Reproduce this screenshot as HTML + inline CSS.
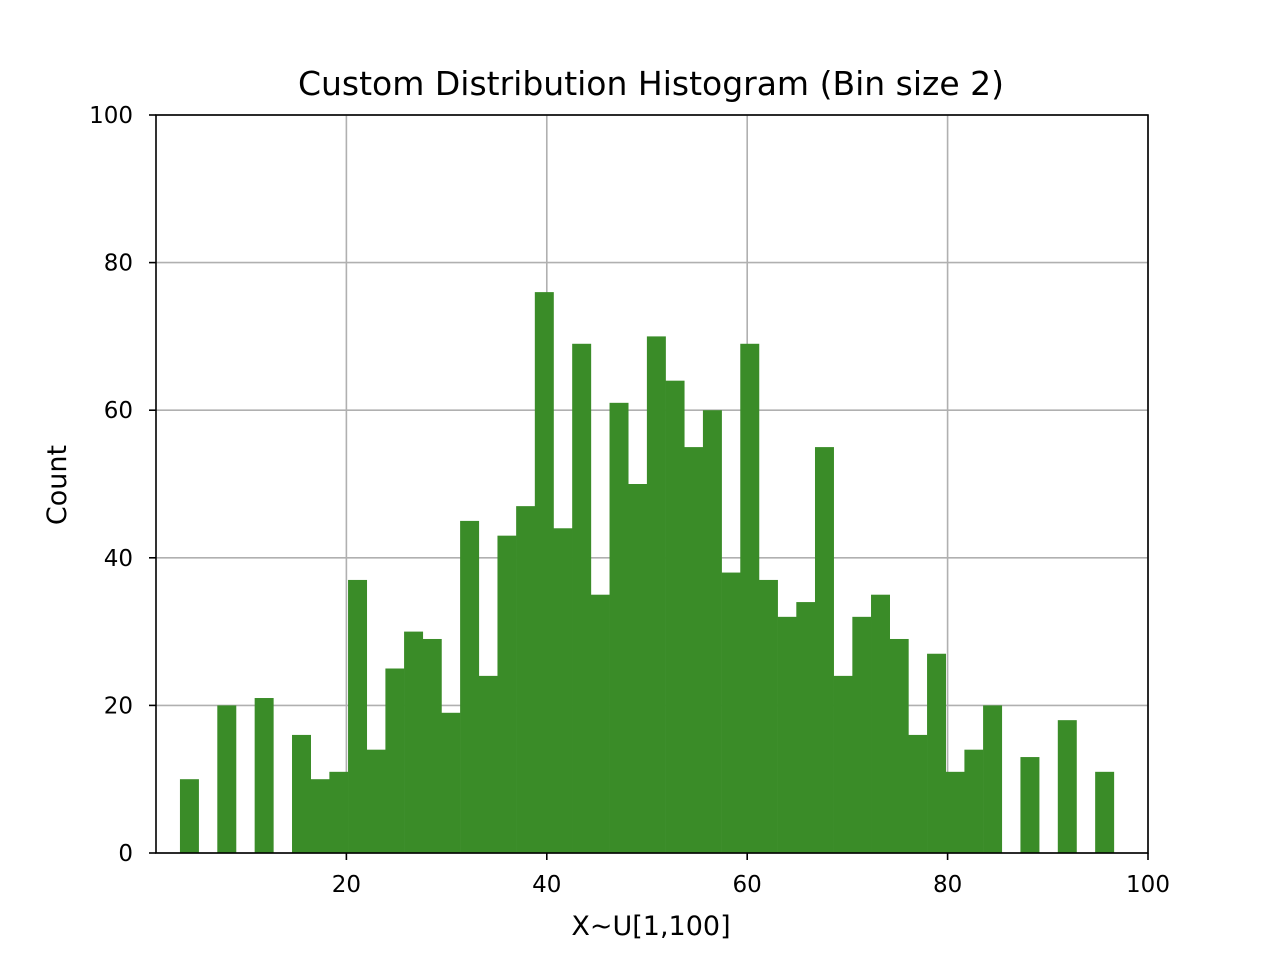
<!DOCTYPE html>
<html><head><meta charset="utf-8"><style>
html,body{margin:0;padding:0;background:#fff;}
svg{display:block;font-family:"DejaVu Sans","Liberation Sans",sans-serif;}
</style></head><body>
<svg id="chart" width="1274" height="960" viewBox="0 0 1274 960" xmlns="http://www.w3.org/2000/svg">
<rect width="1274" height="960" fill="#fff"/>
<g id="grid"></g><g id="bars"></g><g id="axes"></g>
</svg>
<script>
const binStart = 3.39;
const binWidth = 1.864;
const counts = [10,0,20,0,21,0,16,10,11,37,14,25,30,29,19,45,24,43,47,76,44,69,35,61,50,70,64,55,60,38,69,37,32,34,55,24,32,35,29,16,27,11,14,20,0,13,0,18,0,11];
const xTicks = [20,40,60,80,100];
const yTicks = [0,20,40,60,80,100];
const xMin = 1, xMax = 100, yMin = 0, yMax = 100;
const L=156,R=1148,T=115,B=853;
const sx = v => L + (v-xMin)/(xMax-xMin)*(R-L);
const sy = v => B - (v-yMin)/(yMax-yMin)*(B-T);
const NS="http://www.w3.org/2000/svg";
function mk(tag, attrs, parent){const e=document.createElementNS(NS,tag);for(const k in attrs)e.setAttribute(k,attrs[k]);parent.appendChild(e);return e;}
const grid=document.getElementById('grid'),bars=document.getElementById('bars'),axes=document.getElementById('axes');
xTicks.forEach(t=>{const l=mk('line',{x1:sx(t),x2:sx(t),y1:T,y2:B,stroke:'#b0b0b0','stroke-width':1.6},grid);

});
yTicks.forEach(t=>{const l=mk('line',{x1:L,x2:R,y1:sy(t),y2:sy(t),stroke:'#b0b0b0','stroke-width':1.6},grid);

});
counts.forEach((c,i)=>{if(c<=0)return;const x0=sx(binStart+i*binWidth),x1=sx(binStart+(i+1)*binWidth);
const r=mk('rect',{x:x0,y:sy(c),width:x1-x0+0.3,height:sy(0)-sy(c),fill:'#3a8c28'},bars);

});
const frame=mk('rect',{x:L,y:T,width:R-L,height:B-T,fill:'none',stroke:'#000','stroke-width':1.6},axes);


xTicks.forEach(t=>{mk('line',{x1:sx(t),x2:sx(t),y1:B,y2:B+7,stroke:'#000','stroke-width':1.6},axes);
const tx=mk('text',{x:sx(t),y:B+39,'text-anchor':'middle','font-size':23,fill:'#000'},axes);tx.textContent=t;

});
yTicks.forEach(t=>{mk('line',{x1:L-7,x2:L,y1:sy(t),y2:sy(t),stroke:'#000','stroke-width':1.6},axes);
const tx=mk('text',{x:L-23,y:sy(t)+8,'text-anchor':'end','font-size':23,fill:'#000'},axes);tx.textContent=t;

});
const title=mk('text',{x:651,y:95,'text-anchor':'middle','font-size':33,fill:'#000'},axes);title.textContent='Custom Distribution Histogram (Bin size 2)';


const xl=mk('text',{x:651,y:935,'text-anchor':'middle','font-size':27,fill:'#000'},axes);xl.textContent='X~U[1,100]';


const yl=mk('text',{x:66,y:485,'text-anchor':'middle','font-size':27,fill:'#000',transform:'rotate(-90 66 485)'},axes);yl.textContent='Count';


</script>
</body></html>
